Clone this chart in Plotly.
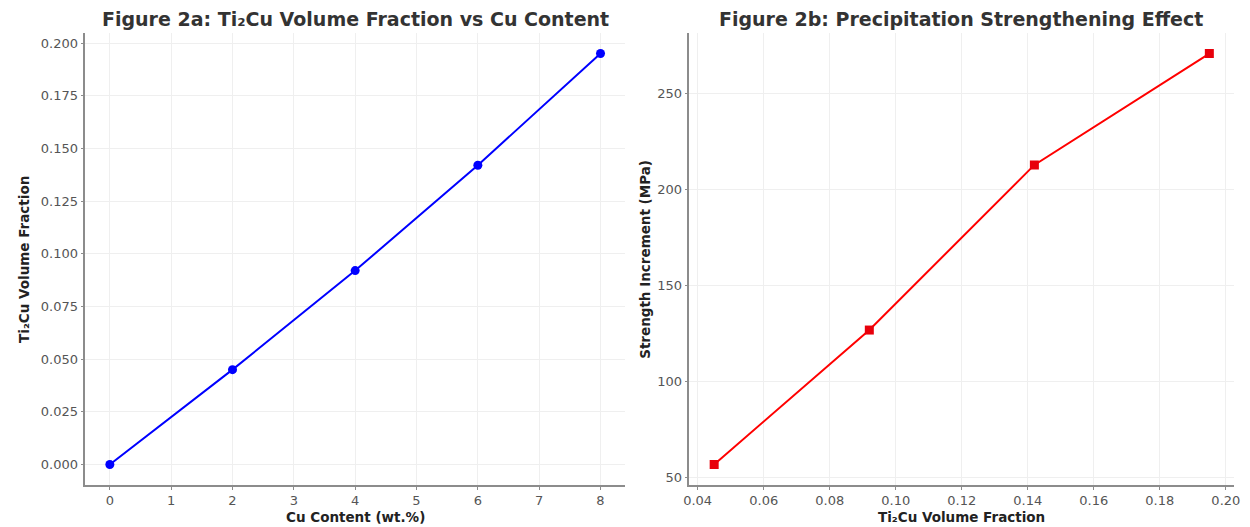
import plotly.graph_objects as go

# Data
cu_content = [0, 2, 4, 6, 8]
ti2cu_fraction = [0.0, 0.045, 0.092, 0.142, 0.195]
strength_increment = [57, 127, 213, 271]
ti2cu_fraction_b = [0.045, 0.092, 0.142, 0.195]

title_a = "Figure 2a: Ti₂Cu Volume Fraction vs Cu Content"
title_b = "Figure 2b: Precipitation Strengthening Effect"
xlabel_a = "Cu Content (wt.%)"
ylabel_a = "Ti₂Cu Volume Fraction"
xlabel_b = "Ti₂Cu Volume Fraction"
ylabel_b = "Strength Increment (MPa)"

OFF = 8  # page body margin
W, H = 1250 - OFF, 527 - OFF
FONT = "DejaVu Sans"


def px(x):
    return (x - OFF) / W


def py(y):
    return 1 - (y - OFF) / H


fig = go.Figure()
fig.add_trace(go.Scatter(x=cu_content, y=ti2cu_fraction, mode="lines+markers",
                         line=dict(color="#0000ff", width=2),
                         marker=dict(color="#0000ff", size=9, symbol="circle"),
                         xaxis="x", yaxis="y", showlegend=False))
fig.add_trace(go.Scatter(x=ti2cu_fraction_b, y=strength_increment, mode="lines+markers",
                         line=dict(color="#ff0000", width=2),
                         marker=dict(color="#e8000b", size=9, symbol="square"),
                         xaxis="x2", yaxis="y2", showlegend=False))

ydom = [py(485), py(33)]
axis_common = dict(showgrid=True, gridcolor="#efefef", gridwidth=1, zeroline=False,
                   showline=True, linecolor="#8c8c8c", linewidth=1.5,
                   ticks="outside", ticklen=3, tickcolor="#8c8c8c", tickwidth=1,
                   tickfont=dict(family=FONT, size=13, color="#555555"), mirror=False)

fig.update_layout(
    width=W, height=H,
    margin=dict(l=0, r=0, t=0, b=0),
    paper_bgcolor="white", plot_bgcolor="white",
    xaxis=dict(domain=[px(80), px(625)], range=[-0.4, 8.4], dtick=1, anchor="y", **axis_common),
    yaxis=dict(domain=ydom, range=[-0.00975, 0.20475], dtick=0.025, tickformat=".3f",
               anchor="x", **axis_common),
    xaxis2=dict(domain=[px(690), px(1240)], range=[0.0375, 0.2025], dtick=0.02, tickformat=".2f",
                anchor="y2", **axis_common),
    yaxis2=dict(domain=ydom, range=[46.3, 281.7], tickvals=[50, 100, 150, 200, 250],
                anchor="x2", **axis_common),
)

ann = []


def add_text(text, x, y, size, rot=0, color="#333333"):
    ann.append(dict(text="<b>" + text + "</b>", x=px(x), y=py(y), xref="paper", yref="paper",
                    showarrow=False, textangle=rot, xanchor="center", yanchor="middle",
                    font=dict(family=FONT, size=size, color=color)))


add_text(title_a, 353, 19, 19)
add_text(title_b, 964, 19, 19)
add_text(xlabel_a, 353, 517, 13.5, color="#222222")
add_text(xlabel_b, 965, 517, 13.5, color="#222222")
add_text(ylabel_a, 18, 259, 13.5, rot=-90, color="#222222")
add_text(ylabel_b, 645, 259, 13.5, rot=-90, color="#222222")
fig.update_layout(annotations=ann)

fig.write_html("out.html")
